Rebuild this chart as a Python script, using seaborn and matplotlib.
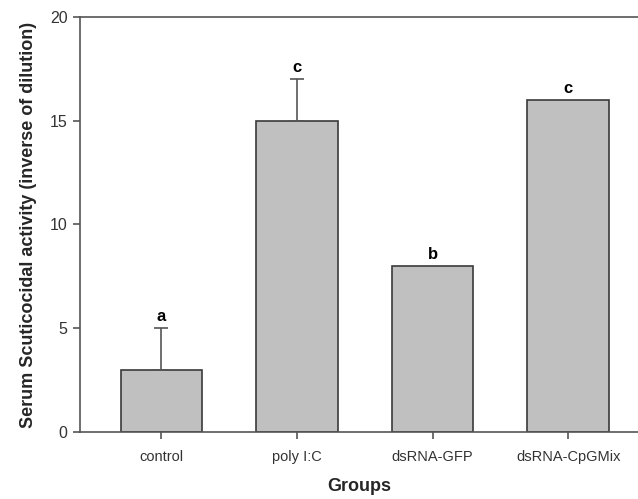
import numpy as np
import pandas as pd
import matplotlib
matplotlib.use("Agg")
import matplotlib.pyplot as plt
import seaborn as sns

# Data
groups = ["control", "poly I:C", "dsRNA-GFP", "dsRNA-CpGMix"]
activity = [3, 15, 8, 16]
err_upper = [2, 2, 0, 0]
letters = ["a", "c", "b", "c"]

sns.set_theme(style="white")
plt.rcParams['font.family'] = ['Liberation Sans', 'DejaVu Sans']

df = pd.DataFrame({"group": groups, "activity": activity})

fig = plt.figure(figsize=(6.38, 4.99), dpi=100)
ax = fig.add_axes([0.1254, 0.1343, 0.8746, 0.8317])

sns.barplot(data=df, x="group", y="activity", color="#c0c0c0", saturation=1,
            width=0.6, edgecolor="#3a3a3a", linewidth=1.2, errorbar=None, ax=ax)

pos = np.arange(len(groups))
mask = np.array(err_upper) > 0
ax.errorbar(pos[mask], np.array(activity)[mask],
            yerr=[np.zeros(mask.sum()), np.array(err_upper)[mask]],
            fmt="none", ecolor="#555555", elinewidth=1.2, capsize=5, capthick=1.2)

for x, v, e, lab in zip(pos, activity, err_upper, letters):
    ax.text(x, v + e + 0.2, lab, ha="center", va="bottom", fontsize=12,
            fontweight="bold", color="black")

ax.set_ylim(0, 20)
ax.set_xlim(-0.6, 3.515)
ax.set_yticks([0, 5, 10, 15, 20])
ax.set_xlabel("Groups", fontsize=13, fontweight="bold", labelpad=10)
ax.set_ylabel("Serum Scuticocidal activity (inverse of dilution)", fontsize=13,
              fontweight="bold", labelpad=9)
ax.tick_params(axis="both", direction="out", length=5, width=1.2, color="#555555",
               labelsize=10.5, labelcolor="#333333", bottom=True, left=True)
ax.tick_params(axis="x", pad=8)
ax.tick_params(axis="y", labelsize=11.5, pad=4)
for side in ["left", "bottom", "top"]:
    ax.spines[side].set_color("#555555")
    ax.spines[side].set_linewidth(1.2)
ax.spines["right"].set_visible(False)

fig.savefig("out.png", dpi=100)
